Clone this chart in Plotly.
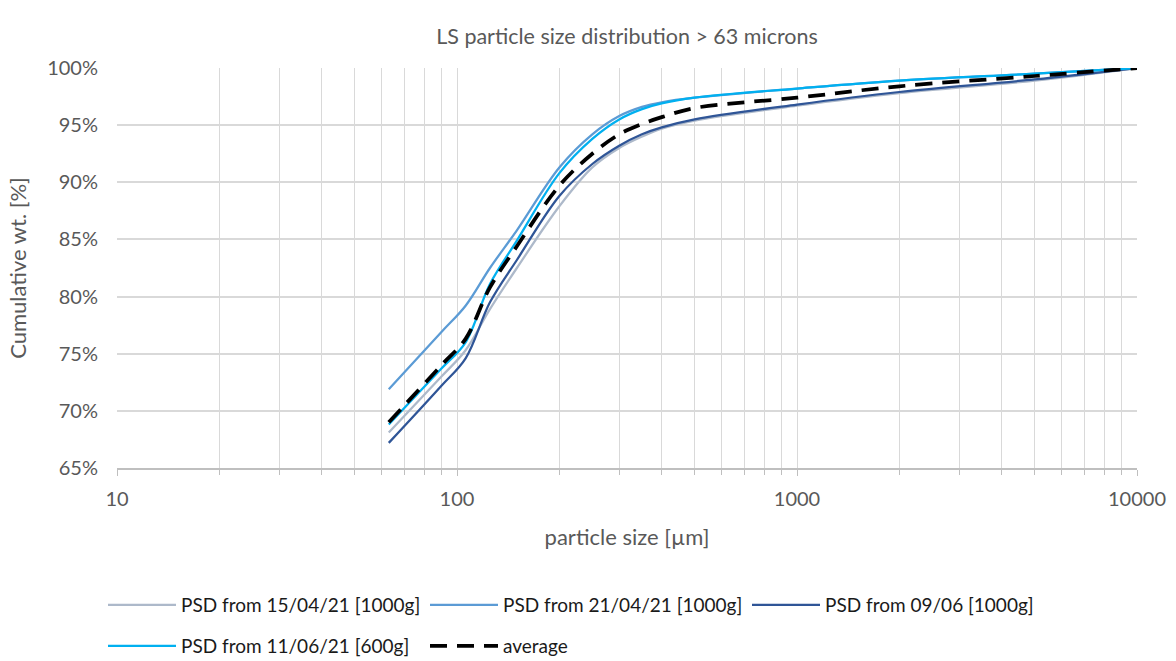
import plotly.graph_objects as go

# particle size [µm]
sizes = [63, 90, 106, 125, 150, 200, 250, 300, 350, 400, 500, 1000, 2000, 5000, 10000]

psd_1504 = [68.1, 73.0, 75.3, 78.9, 82.5, 87.9, 91.3, 93.0, 94.0, 94.7, 95.4, 96.7, 97.8, 98.9, 100.0]
psd_2104 = [71.9, 76.9, 79.2, 82.5, 85.8, 91.3, 94.2, 95.8, 96.6, 97.0, 97.4, 98.2, 98.9, 99.5, 100.0]
psd_0906 = [67.2, 72.2, 74.6, 79.5, 83.2, 88.8, 91.6, 93.2, 94.2, 94.8, 95.5, 96.8, 97.9, 99.0, 100.0]
psd_1106 = [68.8, 73.7, 76.0, 81.1, 84.9, 90.8, 93.8, 95.5, 96.4, 96.9, 97.4, 98.2, 98.9, 99.5, 100.0]
psd_avg  = [69.0, 74.0, 76.3, 80.8, 84.4, 89.7, 92.5, 94.2, 95.1, 95.7, 96.5, 97.4, 98.4, 99.3, 100.0]

names = ["PSD from 15/04/21 [1000g]", "PSD from 21/04/21 [1000g]", "PSD from 09/06 [1000g]",
         "PSD from 11/06/21 [600g]", "average"]
series = [psd_1504, psd_2104, psd_0906, psd_1106, psd_avg]
colors = ["#ADB9CA", "#5B9BD5", "#2F5597", "#00B0F0", "#000000"]
widths = [2.25, 2.25, 2.25, 2.25, 3.75]
dashes = ["solid", "solid", "solid", "solid", "17px,10px"]
legend_ids = ["legend", "legend", "legend", "legend2", "legend2"]

major_x = [10, 100, 1000, 10000]
minor_x = [v * m for m in (10, 100, 1000) for v in range(2, 10)]
y_ticks = [65, 70, 75, 80, 85, 90, 95, 100]

FONT = "Lato, 'Open Sans', sans-serif"
GREY_TXT = "#595959"
W, H = 1176, 661

fig = go.Figure()
for n, s, c, w, d, lg in zip(names, series, colors, widths, dashes, legend_ids):
    fig.add_trace(go.Scatter(
        x=sizes, y=s, name=n, mode="lines", legend=lg,
        line=dict(color=c, width=w, dash=d, shape="spline", smoothing=1.0),
    ))

legend_common = dict(
    orientation="h", xref="container", x=103 / W, xanchor="left",
    yref="container", yanchor="middle",
    entrywidth=239, entrywidthmode="pixels", itemwidth=68,
    font=dict(size=19, color="#1a1a1a", family=FONT),
    bgcolor="rgba(0,0,0,0)",
)

fig.update_layout(
    width=W, height=H,
    paper_bgcolor="white", plot_bgcolor="white",
    margin=dict(l=117, r=39, t=68, b=193),
    font=dict(family=FONT, size=18, color=GREY_TXT),
    title=dict(text="LS particle size distribution > 63 microns",
               xref="paper", x=0.5, xanchor="center",
               y=1 - 36 / H, yanchor="middle",
               font=dict(size=21.5, color=GREY_TXT)),
    xaxis=dict(
        type="log", range=[1, 4], automargin=False,
        tickvals=major_x, ticktext=[str(v) for v in major_x],
        showgrid=True, gridcolor="#D9D9D9", gridwidth=1,
        ticks="outside", ticklen=6, tickcolor="#BFBFBF",
        ticklabelstandoff=6,
        showline=True, linecolor="#BFBFBF", linewidth=1.5,
        minor=dict(tickvals=minor_x, showgrid=True, gridcolor="#D9D9D9",
                   ticks="outside", ticklen=5, tickcolor="#BFBFBF"),
        title=dict(text="particle size [µm]", standoff=21, font=dict(size=22, color=GREY_TXT)),
        tickfont=dict(size=20, color=GREY_TXT),
        zeroline=False,
    ),
    yaxis=dict(
        range=[65, 100], tickmode="array", tickvals=y_ticks, automargin=False,
        ticktext=[f"{v}%" for v in y_ticks],
        showgrid=True, gridcolor="#D9D9D9", gridwidth=1.5,
        showline=False, ticks="", zeroline=False,
        ticklabelstandoff=18,
        title=dict(text="Cumulative wt. [%]", standoff=14, font=dict(size=22, color=GREY_TXT)),
        tickfont=dict(size=20, color=GREY_TXT),
    ),
    legend=dict(legend_common, y=1 - 605 / H),
    legend2=dict(legend_common, y=1 - 646 / H),
)

fig.write_html(
    "out.html",
    config={"displayModeBar": False},
    post_script="document.body.style.margin='0';document.body.style.overflow='hidden';",
)
